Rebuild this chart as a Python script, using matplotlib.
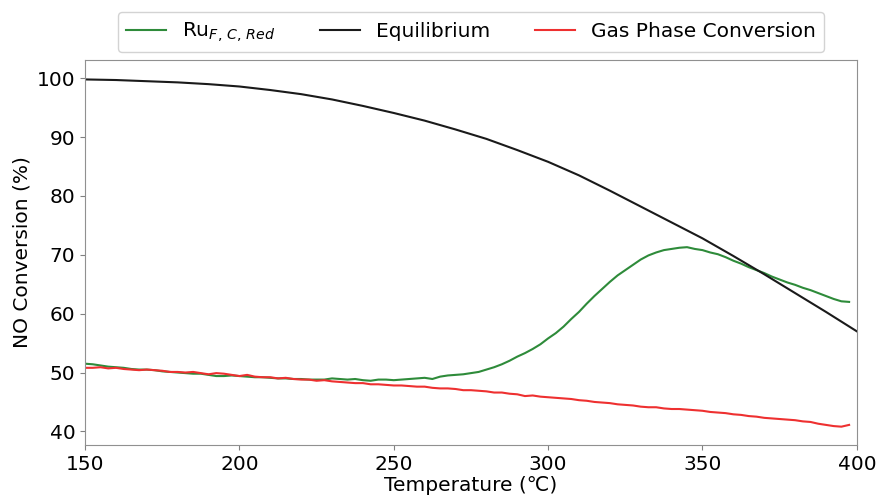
import matplotlib
matplotlib.use("Agg")
import matplotlib.pyplot as plt
import numpy as np

# Temperature grid (°C) for the measured series
temp_meas = np.arange(150, 398.1, 2.5)

ru_conv = [
    51.5, 51.4, 51.2, 51.0, 50.9, 50.8, 50.6, 50.5, 50.5, 50.4,
    50.2, 50.1, 50.0, 49.9, 49.8, 49.8, 49.6, 49.4, 49.4, 49.5,
    49.4, 49.3, 49.2, 49.2, 49.1, 49.0, 49.0, 48.9, 48.9, 48.8,
    48.8, 48.8, 49.0, 48.9, 48.8, 48.9, 48.7, 48.6, 48.8, 48.8,
    48.7, 48.8, 48.9, 49.0, 49.1, 48.9, 49.3, 49.5, 49.6, 49.7,
    49.9, 50.1, 50.5, 50.9, 51.4, 52.0, 52.7, 53.3, 54.0, 54.8,
    55.8, 56.7, 57.8, 59.1, 60.3, 61.7, 63.0, 64.2, 65.4, 66.5,
    67.4, 68.3, 69.2, 69.9, 70.4, 70.8, 71.0, 71.2, 71.3, 71.0,
    70.8, 70.4, 70.1, 69.6, 69.0, 68.5, 67.9, 67.4, 66.9, 66.3,
    65.8, 65.3, 64.9, 64.4, 64.0, 63.5, 63.0, 62.5, 62.1, 62.0,
]

gas_conv = [
    50.8, 50.8, 50.9, 50.7, 50.8, 50.6, 50.5, 50.4, 50.5, 50.4,
    50.3, 50.1, 50.1, 50.0, 50.1, 49.9, 49.7, 49.9, 49.8, 49.6,
    49.4, 49.6, 49.3, 49.2, 49.2, 49.0, 49.1, 48.9, 48.8, 48.8,
    48.6, 48.7, 48.5, 48.4, 48.3, 48.2, 48.2, 48.0, 48.0, 47.9,
    47.8, 47.8, 47.7, 47.6, 47.6, 47.4, 47.3, 47.3, 47.2, 47.0,
    47.0, 46.9, 46.8, 46.6, 46.6, 46.4, 46.3, 46.0, 46.1, 45.9,
    45.8, 45.7, 45.6, 45.5, 45.3, 45.2, 45.0, 44.9, 44.8, 44.6,
    44.5, 44.4, 44.2, 44.1, 44.1, 43.9, 43.8, 43.8, 43.7, 43.6,
    43.5, 43.3, 43.2, 43.1, 42.9, 42.8, 42.6, 42.5, 42.3, 42.2,
    42.1, 42.0, 41.9, 41.7, 41.6, 41.3, 41.1, 40.9, 40.8, 41.1,
]

# Thermodynamic equilibrium limit
temp_eq = np.arange(150, 401, 10)
eq_conv = [
    99.8, 99.7, 99.5, 99.3, 99.0, 98.6, 98.0, 97.3, 96.4, 95.3,
    94.1, 92.8, 91.3, 89.7, 87.8, 85.8, 83.5, 80.9, 78.2, 75.5,
    72.8, 69.8, 66.7, 63.5, 60.3, 57.0,
]

x_ticks = [150, 200, 250, 300, 350, 400]
y_ticks = [40, 50, 60, 70, 80, 90, 100]

plt.rcParams["font.family"] = ["DejaVu Sans"]

fig = plt.figure(figsize=(8.77, 4.96), dpi=100)
ax = fig.add_axes([0.097, 0.103, 0.880, 0.776])

ax.plot(temp_meas, ru_conv, color="#2e8b3a", lw=1.5, label=r"Ru$_{F,\,C,\,Red}$")
ax.plot(temp_eq, eq_conv, color="#1a1a1a", lw=1.5, label="Equilibrium")
ax.plot(temp_meas, gas_conv, color="#ee3030", lw=1.5, label="Gas Phase Conversion")

ax.set_xlim(150, 400)
ax.set_ylim(37.7, 103.1)
ax.set_xticks(x_ticks)
ax.set_yticks(y_ticks)
ax.tick_params(labelsize=14.5, color="#808080")
for s in ax.spines.values():
    s.set_color("#909090")

ax.set_xlabel("Temperature (\u2103)", fontsize=14.5, labelpad=2)
ax.set_ylabel("NO Conversion (%)", fontsize=14.5)

ax.legend(loc="center", bbox_to_anchor=(0.5, 1.073), ncol=3, fontsize=14.5,
          frameon=True, edgecolor="#c8c8c8", handlelength=2.0, columnspacing=2.2)

fig.savefig("out.png", dpi=100)
